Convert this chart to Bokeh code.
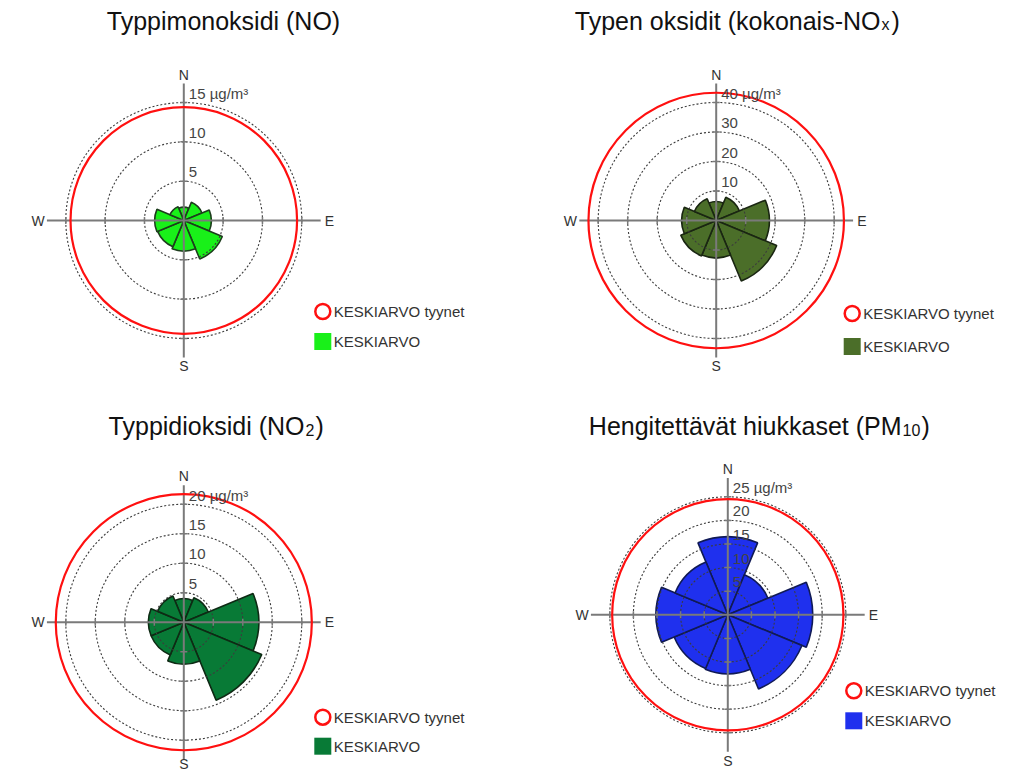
import math
from bokeh.plotting import figure
from bokeh.layouts import column, row
from bokeh.models import Range1d, Label, ColumnDataSource
from bokeh.embed import file_html
from bokeh.resources import INLINE
from bokeh.core.properties import value

# Wind sectors (8 x 45 degrees), bearings clockwise from north
directions = ["N", "NE", "E", "SE", "S", "SW", "W", "NW"]
bearings = [0, 45, 90, 135, 180, 225, 270, 315]

# Mean concentrations per wind sector, µg/m³, and the mean during calm
no_mean = [1.7, 2.5, 3.5, 5.3, 3.9, 3.6, 3.7, 1.9]
no_calm = 14.4
no_rings = [5, 10, 15]

nox_mean = [6.4, 8.5, 18.0, 22.2, 12.7, 13.0, 11.7, 8.0]
nox_calm = 43.3
nox_rings = [10, 20, 30, 40]

no2_mean = [4.0, 4.5, 12.7, 14.3, 7.1, 6.0, 6.0, 4.8]
no2_calm = 21.7
no2_rings = [5, 10, 15, 20]

pm10_mean = [16.5, 9.2, 18.0, 17.0, 12.5, 12.3, 15.2, 12.1]
pm10_calm = 24.5
pm10_rings = [5, 10, 15, 20, 25]

unit = "µg/m³"
legend_calm = "KESKIARVO tyynet"
legend_mean = "KESKIARVO"
compass = ["N", "E", "S", "W"]

FONT = "Liberation Sans"
TITLE_SIZE = 25
R_PX = 118.0          # pixel radius of the outermost grid ring
HALF_AXIS = 1.16      # axis half length relative to outer ring
COMPASS_POS = 1.235   # compass letter distance relative to outer ring


def rose(width, height, cx, cy, rings, means, calm, fill, edge,
         title_parts, title_x, title_baseline, leg_dx, leg_dy, leg_gap):
    rmax = rings[-1]
    s = R_PX / rmax  # pixels per µg/m³
    p = figure(width=width, height=height,
               x_range=Range1d(-cx / s, (width - cx) / s),
               y_range=Range1d(-(height - cy) / s, cy / s),
               output_backend="svg", toolbar_location=None,
               x_axis_location=None, y_axis_location=None,
               min_border=0, title=None)
    p.xgrid.visible = False
    p.ygrid.visible = False
    p.outline_line_color = None
    p.background_fill_color = "white"
    p.border_fill_color = "white"

    # sector wedges (bokeh angles are anticlockwise from east)
    half = 22.5
    src = ColumnDataSource(dict(
        r=means,
        a0=[math.radians(90 - b - half) for b in bearings],
        a1=[math.radians(90 - b + half) for b in bearings],
    ))
    p.wedge(x=0, y=0, radius="r", start_angle="a0", end_angle="a1",
            source=src, fill_color=fill, line_color=edge, line_width=1.6)

    # dotted grid rings
    p.circle(x=[0] * len(rings), y=[0] * len(rings), radius=rings,
             fill_color=None, line_color="#3c3c3c", line_dash="2 2",
             line_width=1.1)

    # compass cross with ring ticks
    L = HALF_AXIS * rmax
    p.segment(x0=[-L, 0], y0=[0, -L], x1=[L, 0], y1=[0, L],
              line_color="#7a7a7a", line_width=2)
    t = 3.5 / s
    tx0, ty0, tx1, ty1 = [], [], [], []
    for r in rings:
        for sx, sy in [(1, 0), (-1, 0), (0, 1), (0, -1)]:
            if sx:
                tx0.append(sx * r); tx1.append(sx * r)
                ty0.append(-t); ty1.append(t)
            else:
                tx0.append(-t); tx1.append(t)
                ty0.append(sy * r); ty1.append(sy * r)
    p.segment(x0=tx0, y0=ty0, x1=tx1, y1=ty1, line_color="#7a7a7a",
              line_width=1.5)

    # calm mean
    p.circle(x=0, y=0, radius=calm, fill_color=None, line_color="#ff1010",
             line_width=2.2)

    # ring labels
    labels = [str(r) for r in rings[:-1]] + [f"{rings[-1]} {unit}"]
    p.text(x=[0] * len(rings), y=rings, text=labels, x_offset=5, y_offset=-9,
           text_font=value(FONT), text_font_size="15px", text_color="#444444",
           text_baseline="alphabetic", text_align="left")

    # compass letters (kept inside the frame at the bottom edge)
    c = COMPASS_POS * rmax
    c_south = min(c, (height - cy - 8) / s)
    p.text(x=[0, c, 0, -c], y=[c, 0, -c_south, 0], text=compass,
           text_font=value(FONT), text_font_size="14px", text_color="#333333",
           text_baseline="middle", text_align="center")

    # legend
    lx = leg_dx / s
    ly1 = -leg_dy / s
    ly2 = -(leg_dy + leg_gap) / s
    p.scatter(x=[lx], y=[ly1], marker="circle", size=15, fill_color="white",
              line_color="#ff1010", line_width=2.5)
    p.scatter(x=[lx], y=[ly2], marker="square", size=17, fill_color=fill,
              line_color=None)
    p.text(x=[lx, lx], y=[ly1, ly2], text=[legend_calm, legend_mean],
           x_offset=11, text_font=value(FONT), text_font_size="15px",
           text_color="#333333", text_baseline="middle", text_align="left")

    # title (main text, optional subscript, closing part)
    main, sub, tail = title_parts
    yb = height - title_baseline
    fs = f"{TITLE_SIZE}px"
    if not sub:
        p.add_layout(Label(x=title_x, y=yb, x_units="screen", y_units="screen",
                           text=main, text_font=FONT, text_font_size=fs,
                           text_color="#111111", text_align="center",
                           text_baseline="alphabetic"))
    else:
        p.add_layout(Label(x=title_x, y=yb, x_units="screen", y_units="screen",
                           text=main, text_font=FONT, text_font_size=fs,
                           text_color="#111111", text_align="right",
                           text_baseline="alphabetic"))
        p.add_layout(Label(x=title_x + 1, y=yb - 4, x_units="screen", y_units="screen",
                           text=sub, text_font=FONT, text_font_size="16px",
                           text_color="#111111", text_align="left",
                           text_baseline="alphabetic"))
        sub_w = 9.0 * len(sub) + 2
        p.add_layout(Label(x=title_x + sub_w, y=yb, x_units="screen", y_units="screen",
                           text=tail, text_font=FONT, text_font_size=fs,
                           text_color="#111111", text_align="left",
                           text_baseline="alphabetic"))
    return p


p1 = rose(513, 385, 183.3, 220.0, no_rings, no_mean, no_calm, "#19f019", "#1d3d1d",
          ("Typpimonoksidi (NO)", "", ""), 223, 20, 139, 91, 30)
p2 = rose(514, 385, 202.7, 220.0, nox_rings, nox_mean, nox_calm, "#4b6e29", "#1a2612",
          ("Typen oksidit (kokonais-NO", "x", ")"), 367, 20, 136, 93, 33)
p3 = rose(513, 386, 183.3, 236.7, no2_rings, no2_mean, no2_calm, "#087a36", "#0e2a14",
          ("Typpidioksidi (NO", "2", ")"), 304, 40, 139, 95, 29)
p4 = rose(514, 386, 214.3, 229.3, pm10_rings, pm10_mean, pm10_calm, "#1f30ee", "#101a55",
          ("Hengitettävät hiukkaset (PM", "10", ")"), 388, 40, 126, 76, 30)

layout = column(row(p1, p2), row(p3, p4))
open("out.html", "w").write(file_html(layout, INLINE))
